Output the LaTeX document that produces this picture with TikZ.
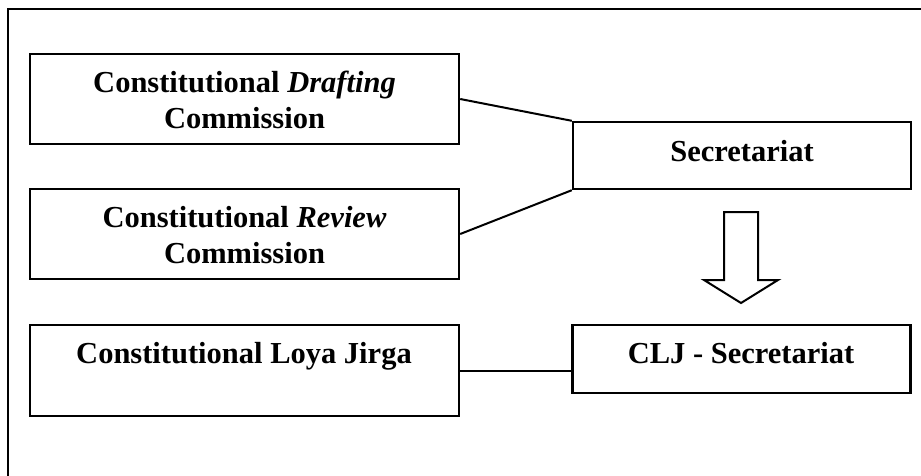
\documentclass[tikz,border=0pt]{standalone}
\usepackage{fontspec}
\setmainfont{Liberation Serif}
\begin{document}
\begin{tikzpicture}[x=1pt,y=-1pt,
  boxstyle/.style={draw=black, line width=2.4pt, rectangle, inner sep=0pt},
  lbl/.style={anchor=base, inner sep=0pt, font=\fontsize{30.5}{36}\selectfont\bfseries},
  conn/.style={draw=black, line width=2pt}]
\useasboundingbox (0,0) rectangle (921,475);
\begin{scope}
\clip (0,0) rectangle (921,475);
\draw[line width=2.6pt] (8,490) -- (8,9) -- (940,9);
\end{scope}
% boxes
\node[boxstyle, minimum width=429pt, minimum height=90pt] (draft) at (244.5,99) {};
\node[boxstyle, minimum width=429pt, minimum height=90pt] (review) at (244.5,234) {};
\node[boxstyle, minimum width=429pt, minimum height=91pt] (lj) at (244.5,370.5) {};
\node[boxstyle, minimum width=338pt, minimum height=67pt] (sec) at (742,155.5) {};
\node[boxstyle, minimum width=338pt, minimum height=68pt] (clj) at (741.5,359) {};
% texts
\node[lbl] (t1a) at (244.5,92) {Constitutional \textit{Drafting}};
\node[lbl] (t1b) at (244.5,128) {Commission};
\node[lbl] (t2a) at (244.5,227) {Constitutional \textit{Review}};
\node[lbl] (t2b) at (244.5,263) {Commission};
\node[lbl] (t3) at (244,363) {Constitutional Loya Jirga};
\node[lbl] (t4) at (742,161) {Secretariat};
\node[lbl] (t5) at (741,363) {CLJ - Secretariat};
% connectors
\draw[conn] (draft.east) -- (sec.north west);
\draw[conn] (review.east) -- (sec.south west);
\draw[conn] (lj.east) -- (clj.west |- lj.east);
% block arrow
\draw[line width=2pt, line join=miter] (724,212) -- (758,212) -- (758,280) -- (778,280) -- (741,303) -- (704,280) -- (724,280) -- cycle;
\end{tikzpicture}
\end{document}
